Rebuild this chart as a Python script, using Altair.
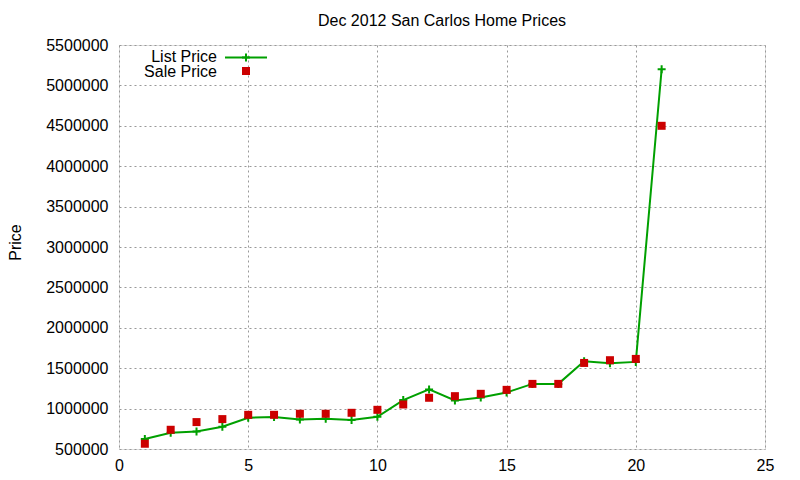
import altair as alt
import pandas as pd

idx = list(range(1, 22))
list_price = [623000, 700000, 718000, 775000, 887000, 895000, 866000, 874000, 858000, 899000,
              1105000, 1237000, 1101000, 1138000, 1200000, 1306000, 1306000, 1586000, 1562000, 1578000, 5200000]
sale_price = [565000, 738000, 833000, 870000, 923000, 923000, 936000, 936000, 948000, 985000,
              1051000, 1134000, 1154000, 1183000, 1232000, 1306000, 1306000, 1565000, 1599000, 1615000, 4500000]
x_ticks = [0, 5, 10, 15, 20, 25]
y_ticks = [500000 * i for i in range(1, 12)]

df = pd.DataFrame({"idx": idx, "list": list_price, "sale": sale_price})

GREEN = "#00a000"
RED = "#cc0000"
FONT = "Liberation Sans"
PLUS = "M-1,0L1,0M0,-1L0,1"

xs = alt.Scale(domain=[0, 25], nice=False, zero=False)
ys = alt.Scale(domain=[500000, 5500000], nice=False, zero=False)

xax = alt.Axis(values=x_ticks, title=None, grid=True, gridDash=[2, 3], gridColor="#999999",
               ticks=False, labelPadding=8, domain=False, labelFontSize=16, labelFont=FONT,
               labelColor="#000000", labelFlush=False)
yax = alt.Axis(values=y_ticks, title="Price", grid=True, gridDash=[2, 3], gridColor="#999999",
               ticks=False, labelPadding=11, domain=False, labelFontSize=16, labelFont=FONT,
               labelColor="#000000", format="d", labelFlush=False, titleFontSize=16, titleFont=FONT,
               titleFontWeight="normal", titleX=-104, titleY=197, titleAngle=-90,
               titleAlign="center", titleBaseline="middle", titleColor="#000000")

base = alt.Chart(df)

line = base.mark_line(color=GREEN, strokeWidth=2).encode(
    x=alt.X("idx:Q", scale=xs, axis=xax),
    y=alt.Y("list:Q", scale=ys, axis=yax),
)
plus = base.mark_point(shape=PLUS, size=64, color=GREEN, filled=False, strokeWidth=2, opacity=1).encode(
    x=alt.X("idx:Q", scale=xs),
    y=alt.Y("list:Q", scale=ys),
)
squares = base.mark_square(size=64, color=RED, opacity=1).encode(
    x=alt.X("idx:Q", scale=xs),
    y=alt.Y("sale:Q", scale=ys),
)

leg = pd.DataFrame({"name": ["List Price", "Sale Price"]})
leg1 = alt.Chart(leg.iloc[[0]])
leg2 = alt.Chart(leg.iloc[[1]])
lt1 = leg1.mark_text(align="right", baseline="middle", fontSize=16, font=FONT, color="#000000").encode(
    text="name:N", x=alt.value(98), y=alt.value(12))
lt2 = leg2.mark_text(align="right", baseline="middle", fontSize=16, font=FONT, color="#000000").encode(
    text="name:N", x=alt.value(98), y=alt.value(27))
lr = leg1.mark_rule(color=GREEN, strokeWidth=2).encode(
    x=alt.value(106), x2=alt.value(148), y=alt.value(12.5))
lp = leg1.mark_point(shape=PLUS, size=64, color=GREEN, filled=False, strokeWidth=2, opacity=1).encode(
    x=alt.value(127), y=alt.value(12.5))
ls = leg2.mark_square(size=64, color=RED, opacity=1).encode(
    x=alt.value(127), y=alt.value(26))

chart = alt.layer(line, plus, squares, lt1, lt2, lr, lp, ls).properties(
    width=646, height=404,
    title=alt.TitleParams("Dec 2012 San Carlos Home Prices", fontSize=16, font=FONT,
                          fontWeight="normal", anchor="middle", color="#000000", offset=8),
    autosize=alt.AutoSizeParams(type="none"),
    padding={"left": 111, "top": 37, "right": 26, "bottom": 23},
).configure_view(stroke="#000000", strokeWidth=1).configure(background="#ffffff")

chart.save("out.html", embed_options={"renderer": "svg", "actions": False})
